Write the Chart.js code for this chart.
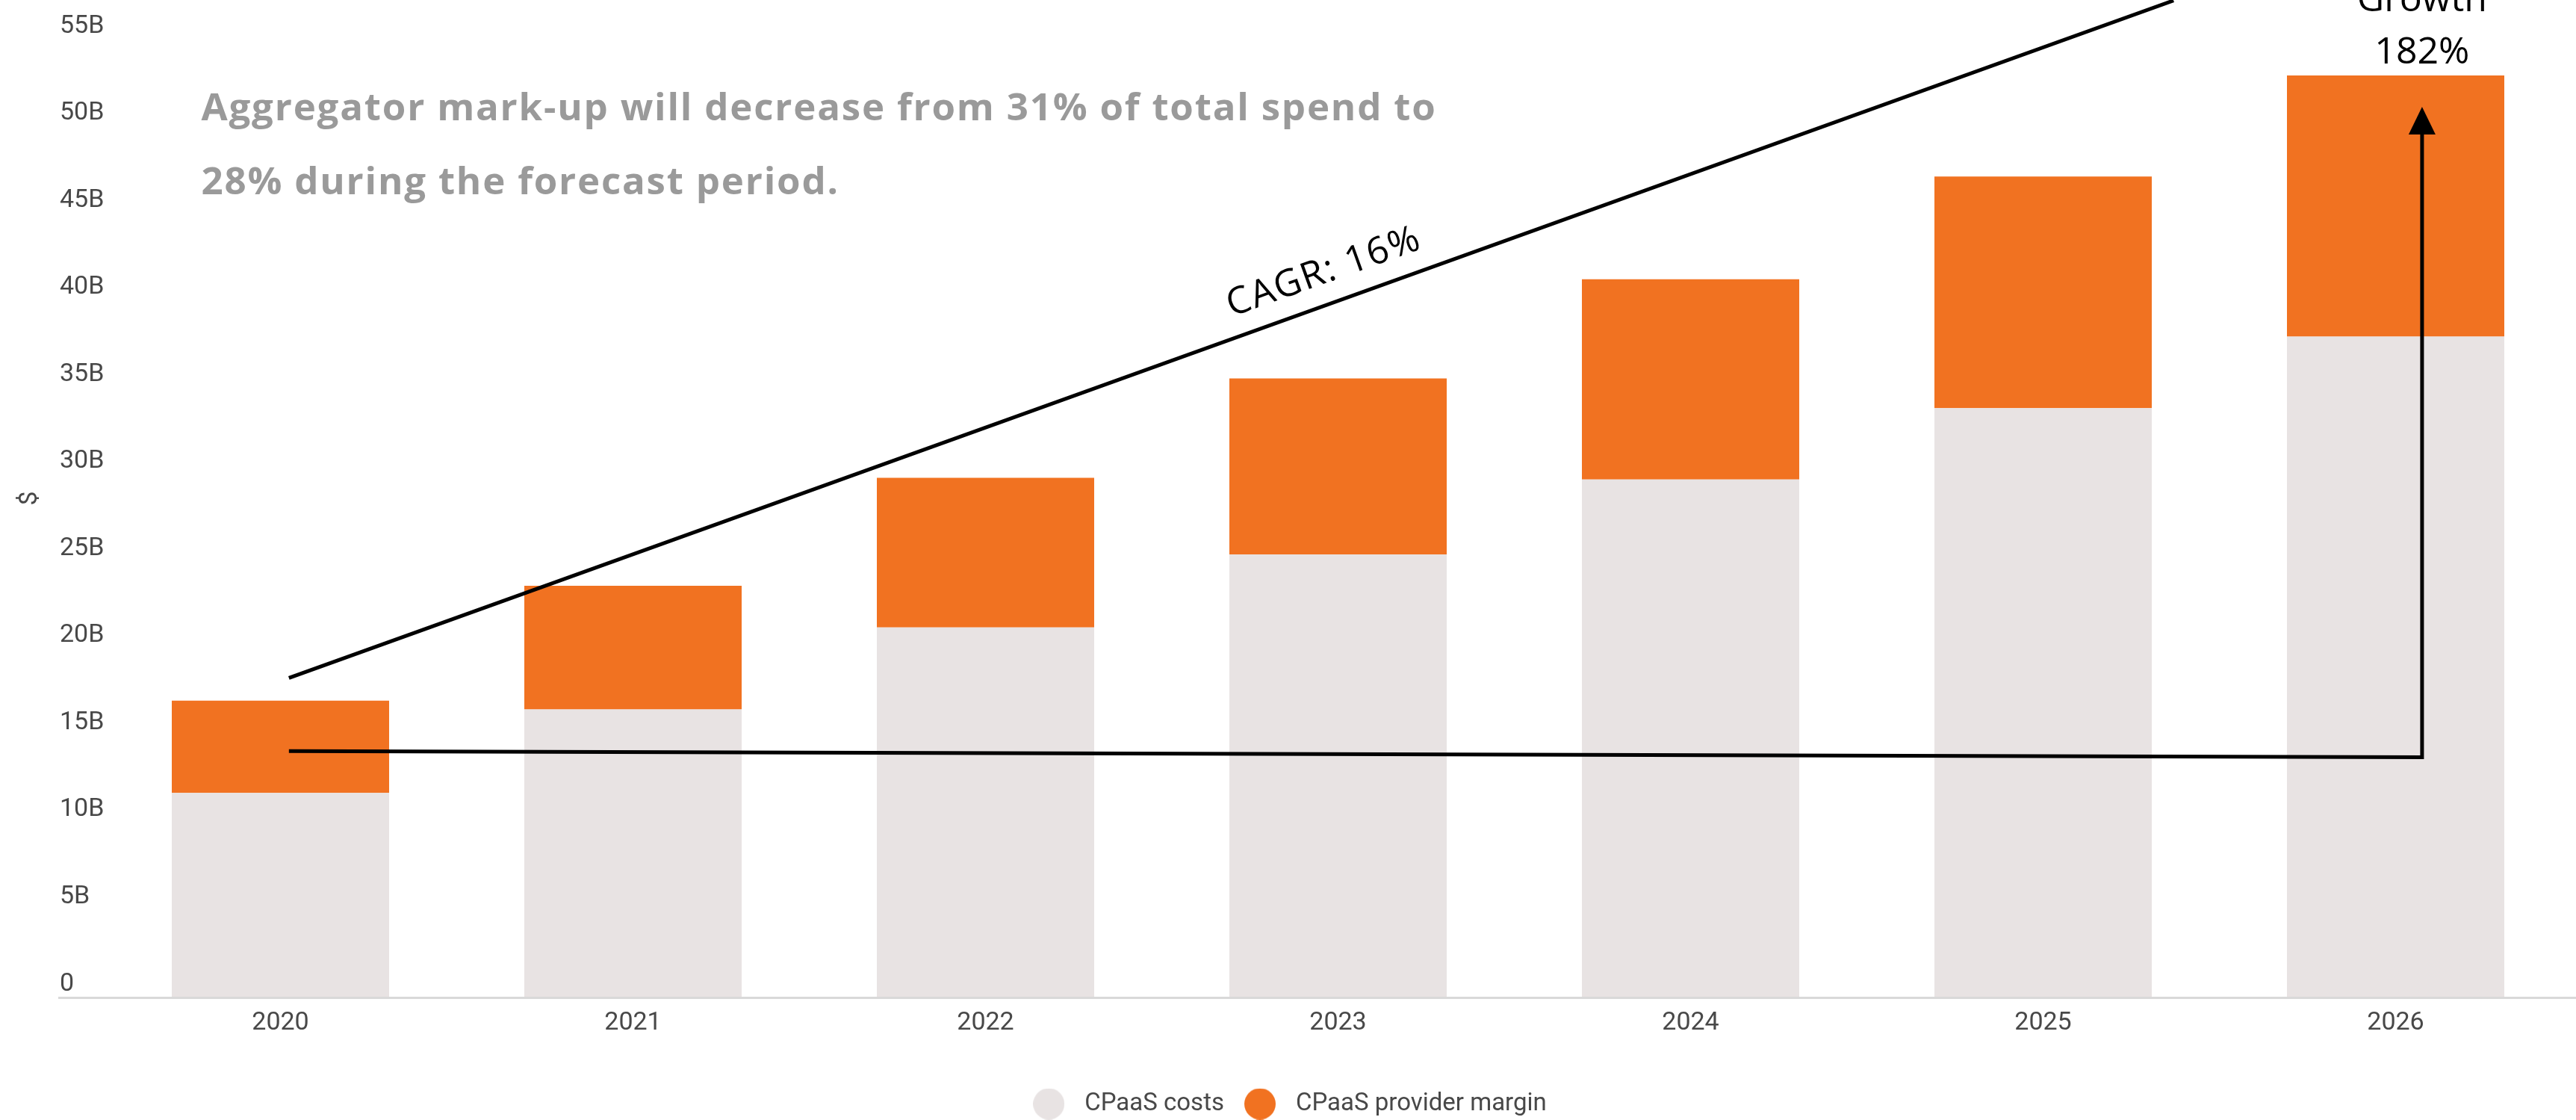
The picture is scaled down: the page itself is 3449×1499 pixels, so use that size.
<!DOCTYPE html>
<html>
<head>
<meta charset="utf-8">
<title>CPaaS spend forecast</title>
<script src="https://cdn.jsdelivr.net/npm/chart.js@4.4.0/dist/chart.umd.min.js"></script>
<style>
  html, body { margin: 0; padding: 0; background: #ffffff; }
  #wrap { width: 3449px; height: 1499px; }
</style>
</head>
<body>
<div id="wrap"><canvas id="chart" width="3449" height="1499"></canvas></div>
<script>
// Forecast years and the two stacked spend components, in billions of dollars
const years = ['2020', '2021', '2022', '2023', '2024', '2025', '2026'];
const cpaasCosts = [11.7, 16.5, 21.2, 25.4, 29.7, 33.8, 37.9];
const providerMargin = [5.3, 7.1, 8.6, 10.1, 11.5, 13.3, 15.0];
const seriesNames = ['CPaaS costs', 'CPaaS provider margin'];

// Value axis: 0 to 55B in steps of 5B
const yMax = 55;
const yStep = 5;
const yUnitSuffix = 'B';
const yTitle = '$';

// Annotation texts
const headline = [
  'Aggregator mark-up will decrease from 31% of total spend to',
  '28% during the forecast period.'
];
const cagrText = 'CAGR: 16%';
const growthText = ['Growth', '182%'];

// Annotation geometry in data space: [category index, value in B]
const cagrFrom = [0.024, 18.3];
const cagrTo = [5.37, 57.2];
const growthFrom = [0.024, 14.1];
const growthCorner = [6.075, 13.75];
const growthTip = 51.1;

const COLORS = {
  costs: '#e8e3e3',
  margin: '#f17221',
  axisText: '#484848',
  headline: '#9a9a9a',
  baseline: '#d9d9d9',
  ink: '#000000'
};

// Round legend markers
function marker(color) {
  const c = document.createElement('canvas');
  c.width = 42; c.height = 42;
  const g = c.getContext('2d');
  g.fillStyle = color;
  g.beginPath();
  g.arc(21, 21, 21, 0, Math.PI * 2);
  g.fill();
  return c;
}
const legendMarkers = [marker(COLORS.costs), marker(COLORS.margin)];

const annotations = {
  id: 'annotations',
  afterDatasetsDraw(chart) {
    const { ctx, chartArea, scales: { x, y } } = chart;
    const px = (p) => [x.getPixelForValue(p[0]), y.getPixelForValue(p[1])];
    const y0 = y.getPixelForValue(0);

    // baseline running under the tick labels to the right edge
    ctx.save();
    ctx.strokeStyle = COLORS.baseline;
    ctx.lineWidth = 3;
    ctx.beginPath();
    ctx.moveTo(78, y0 + 1.5);
    ctx.lineTo(chart.width, y0 + 1.5);
    ctx.stroke();
    ctx.restore();

    // value axis title, centred on the space above the baseline
    ctx.save();
    ctx.translate(40.5, y0 / 2);
    ctx.rotate(-Math.PI / 2);
    ctx.fillStyle = COLORS.axisText;
    ctx.font = '34px Roboto';
    ctx.textAlign = 'center';
    ctx.textBaseline = 'middle';
    ctx.fillText(yTitle, 0, 0);
    ctx.restore();

    // headline
    ctx.save();
    ctx.fillStyle = COLORS.headline;
    ctx.font = '700 51px "Open Sans"';
    ctx.letterSpacing = '1.8px';
    ctx.textAlign = 'left';
    ctx.textBaseline = 'alphabetic';
    headline.forEach((line, i) => {
      ctx.fillText(line, chartArea.left + 130, chartArea.top + 109 + i * 99);
    });
    ctx.restore();

    // CAGR trend line with its label
    const [ax, ay] = px(cagrFrom);
    const [bx, by] = px(cagrTo);
    ctx.save();
    ctx.strokeStyle = COLORS.ink;
    ctx.lineWidth = 5;
    ctx.beginPath();
    ctx.moveTo(ax, ay);
    ctx.lineTo(bx, by);
    ctx.stroke();
    ctx.translate(ax + (bx - ax) * 0.504, ay + (by - ay) * 0.504);
    ctx.rotate(Math.atan2(by - ay, bx - ax));
    ctx.fillStyle = COLORS.ink;
    ctx.font = '400 50px "Open Sans"';
    ctx.letterSpacing = '2px';
    ctx.textAlign = 'left';
    ctx.textBaseline = 'alphabetic';
    ctx.fillText(cagrText, 0, -28);
    ctx.restore();

    // growth arrow
    const [sx, sy] = px(growthFrom);
    const [cx, cy] = px(growthCorner);
    const ty = y.getPixelForValue(growthTip);
    ctx.save();
    ctx.strokeStyle = COLORS.ink;
    ctx.fillStyle = COLORS.ink;
    ctx.lineWidth = 5;
    ctx.lineJoin = 'miter';
    ctx.beginPath();
    ctx.moveTo(sx, sy);
    ctx.lineTo(cx, cy);
    ctx.lineTo(cx, ty + 36);
    ctx.stroke();
    ctx.beginPath();
    ctx.moveTo(cx, ty);
    ctx.lineTo(cx - 18, ty + 37);
    ctx.lineTo(cx + 18, ty + 37);
    ctx.closePath();
    ctx.fill();
    ctx.font = '400 50px "Open Sans"';
    ctx.letterSpacing = '0px';
    ctx.textAlign = 'center';
    ctx.textBaseline = 'alphabetic';
    ctx.fillText(growthText[1], cx, ty - 58);
    ctx.fillText(growthText[0], cx, ty - 128);
    ctx.restore();
  }
};

new Chart(document.getElementById('chart'), {
  type: 'bar',
  data: {
    labels: years,
    datasets: [
      { label: seriesNames[0], data: cpaasCosts, backgroundColor: COLORS.costs },
      { label: seriesNames[1], data: providerMargin, backgroundColor: COLORS.margin }
    ]
  },
  options: {
    responsive: false,
    animation: false,
    devicePixelRatio: 1,
    layout: { padding: { left: 0, right: 5.5, top: 52, bottom: -5 } },
    datasets: { bar: { categoryPercentage: 1, barPercentage: 0.6165, borderWidth: 0 } },
    scales: {
      x: {
        stacked: true,
        grid: { display: false, drawTicks: false },
        border: { display: false },
        ticks: {
          padding: 15,
          color: COLORS.axisText,
          font: { family: 'Roboto', size: 34 }
        },
        afterFit(scale) { scale.height = 110.5; }
      },
      y: {
        stacked: true,
        min: 0,
        max: yMax,
        grid: { display: false, drawTicks: false },
        border: { display: false },
        ticks: {
          stepSize: yStep,
          maxTicksLimit: 12,
          mirror: true,
          crossAlign: 'near',
          padding: -59.5,
          labelOffset: -17,
          color: COLORS.axisText,
          font: { family: 'Roboto', size: 34 },
          callback: (v) => (v === 0 ? '0' : v + yUnitSuffix)
        },
        afterFit(scale) { scale.width = 139.5; }
      }
    },
    plugins: {
      tooltip: { enabled: false },
      legend: {
        position: 'bottom',
        labels: {
          usePointStyle: true,
          pointStyleWidth: 63,
          padding: 16.5,
          color: COLORS.axisText,
          font: { family: 'Roboto', size: 33 },
          generateLabels(chart) {
            const items = Chart.defaults.plugins.legend.labels.generateLabels(chart);
            items.forEach((item, i) => { item.pointStyle = legendMarkers[i]; });
            return items;
          }
        }
      }
    }
  },
  plugins: [annotations]
});
</script>
</body>
</html>
